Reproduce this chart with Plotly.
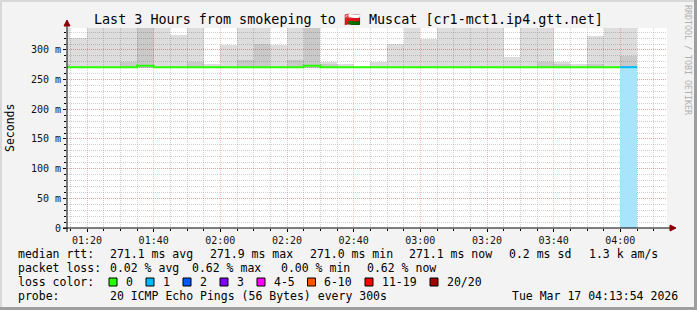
import plotly.graph_objects as go

DAY = "2026-03-17"
# 5-minute bins (start times)
bin_starts = ["01:10", "01:15", "01:20", "01:25", "01:30", "01:35", "01:40", "01:45",
              "01:50", "01:55", "02:00", "02:05", "02:10", "02:15", "02:20", "02:25",
              "02:30", "02:35", "02:40", "02:45", "02:50", "02:55", "03:00", "03:05",
              "03:10", "03:15", "03:20", "03:25", "03:30", "03:35", "03:40", "03:45",
              "03:50", "03:55", "04:00"]
bin_end_last = "04:05"
# median rtt per bin (ms)
median_ms = [271.0, 271.0, 271.0, 271.0, 271.0, 273.5, 271.0, 271.0,
             271.0, 271.0, 271.0, 271.0, 271.0, 271.0, 271.0, 273.5,
             271.0, 271.0, 271.0, 271.0, 271.0, 271.0, 271.0, 271.0,
             271.0, 271.0, 271.0, 271.0, 271.0, 271.0, 271.0, 271.0,
             271.0, 271.0, 271.0]
# outer smoke band top (ms) - light grey
smoke_outer = [345, 320, 345, 345, 345, 345, 345, 325,
               345, 277, 309, 345, 345, 309, 345, 345,
               280, 276, 272, 279, 310, 345, 318, 345,
               345, 345, 345, 288, 345, 345, 280, 277,
               324, 345, 345]
# inner smoke band top (ms) - darker grey (0 = none)
smoke_inner = [276, 0, 0, 0, 279, 345, 0, 0,
               280, 0, 0, 283, 310, 0, 283, 345,
               276, 0, 0, 0, 0, 0, 0, 0,
               0, 0, 0, 0, 0, 280, 277, 0,
               276, 0, 290]
smoke_floor = 269.0
# lost pings per bin (out of 20)
loss = [0] * 34 + [1]

yticks = [0, 50, 100, 150, 200, 250, 300]
ytick_text = ["0", "50 m", "100 m", "150 m", "200 m", "250 m", "300 m"]

loss_labels = ["0", "1", "2", "3", "4-5", "6-10", "11-19", "20/20"]
loss_colors = ["#26ff00", "#00b8ff", "#0059ff", "#7e00ff", "#ff00ff", "#ff5500", "#ff0000", "#a10000"]
loss_back = {1: "#a8e4fb"}

title = "Last 3 Hours from smokeping to \U0001F1F4\U0001F1F2 Muscat [cr1-mct1.ip4.gtt.net]"
stats_rtt = ["271.1 ms avg", "271.9 ms max", "271.0 ms min", "271.1 ms now", "0.2 ms sd", "1.3 k am/s"]
stats_loss = ["0.02 % avg", "0.62 % max", "0.00 % min", "0.62 % now"]
probe_text = "20 ICMP Echo Pings (56 Bytes) every 300s"
stamp_text = "Tue Mar 17 04:13:54 2026"

# ---------------- geometry ----------------
W, H = 697, 310
L, R, T, B = 67, 667, 28, 228
MONO = "DejaVu Sans Mono"


def px(x):
    return (x - L) / (R - L)


def py(y):
    return (B - y) / (B - T)


from datetime import datetime, timedelta

starts = [datetime.fromisoformat(f"{DAY} {s}:00") for s in bin_starts]
step = timedelta(minutes=5)
centers = [s + step / 2 for s in starts]
ends = starts[1:] + [datetime.fromisoformat(f"{DAY} {bin_end_last}:00")]

fig = go.Figure()

# smoke: outer band
fig.add_trace(go.Bar(
    x=centers, y=[v - smoke_floor for v in smoke_outer], base=[smoke_floor] * len(smoke_outer),
    width=300000, marker=dict(color="rgba(0,0,0,0.135)", line=dict(width=0)),
    hoverinfo="skip", showlegend=False))
# smoke: inner band
fig.add_trace(go.Bar(
    x=centers, y=[(v - smoke_floor) if v > 0 else 0 for v in smoke_inner],
    base=[smoke_floor] * len(smoke_inner),
    width=300000, marker=dict(color="rgba(0,0,0,0.09)", line=dict(width=0)),
    hoverinfo="skip", showlegend=False))
# loss background bars
fig.add_trace(go.Bar(
    x=centers, y=[m if l > 0 else 0 for m, l in zip(median_ms, loss)], base=[0] * len(loss),
    width=300000,
    marker=dict(color=[loss_back.get(l, "rgba(0,0,0,0)") for l in loss], line=dict(width=0)),
    hoverinfo="skip", showlegend=False))


def loss_color(n):
    if n == 0:
        return loss_colors[0]
    if n == 1:
        return loss_colors[1]
    if n == 2:
        return loss_colors[2]
    if n == 3:
        return loss_colors[3]
    if n <= 5:
        return loss_colors[4]
    if n <= 10:
        return loss_colors[5]
    if n <= 19:
        return loss_colors[6]
    return loss_colors[7]


# median line, split by loss colour
runs = []
for i, n in enumerate(loss):
    c = loss_color(n)
    if runs and runs[-1][0] == c:
        runs[-1][1].append(i)
    else:
        runs.append((c, [i]))
for c, idx in runs:
    xs = [starts[i] for i in idx] + [ends[idx[-1]]]
    ys = [median_ms[i] for i in idx] + [median_ms[idx[-1]]]
    fig.add_trace(go.Scatter(x=xs, y=ys, mode="lines", line=dict(color=c, width=2, shape="hv"),
                             hoverinfo="skip", showlegend=False))

grid_minor = "rgba(150,150,150,0.45)"
grid_major = "rgba(255,95,95,0.4)"

fig.update_layout(
    width=W, height=H,
    margin=dict(l=L, r=W - R, t=T, b=H - B, pad=0),
    paper_bgcolor="#f3f3f3", plot_bgcolor="#ffffff",
    barmode="overlay", bargap=0,
    showlegend=False,
    font=dict(family=MONO, size=10, color="#000"),
    xaxis=dict(
        type="date",
        range=[f"{DAY} 01:14:00", f"{DAY} 04:14:00"],
        tick0=f"{DAY} 01:20:00", dtick=1200000, tickformat="%H:%M",
        showgrid=True, gridcolor=grid_major, griddash="1px,1px", gridwidth=1,
        ticks="outside", ticklen=3, tickcolor="#000", tickwidth=1,
        tickfont=dict(family=MONO, size=10, color="#111"),
        showline=False, zeroline=False, fixedrange=True,
        minor=dict(dtick=300000, tick0=f"{DAY} 01:20:00", showgrid=True, gridcolor=grid_minor,
                   griddash="1px,1px", gridwidth=1, ticks="outside", ticklen=2, tickcolor="#000"),
    ),
    yaxis=dict(
        range=[0, 337], tickvals=yticks, ticktext=ytick_text,
        showgrid=True, gridcolor=grid_major, griddash="1px,1px", gridwidth=1,
        ticks="outside", ticklen=3, tickcolor="#000", tickwidth=1,
        tickfont=dict(family=MONO, size=10, color="#111"),
        showline=False, zeroline=False, fixedrange=True,
        minor=dict(dtick=10, tick0=0, showgrid=True, gridcolor=grid_minor,
                   griddash="1px,1px", gridwidth=1, ticks="outside", ticklen=2, tickcolor="#000"),
    ),
)

shapes = []
# frame
shapes.append(dict(type="rect", xref="paper", yref="paper", x0=px(0), x1=px(W), y0=py(0), y1=py(2),
                   fillcolor="#d8d8d8", line=dict(width=0), layer="above"))
shapes.append(dict(type="rect", xref="paper", yref="paper", x0=px(0), x1=px(2), y0=py(0), y1=py(H),
                   fillcolor="#d8d8d8", line=dict(width=0), layer="above"))
shapes.append(dict(type="rect", xref="paper", yref="paper", x0=px(W - 3), x1=px(W), y0=py(0), y1=py(H),
                   fillcolor="#9e9e9e", line=dict(width=0), layer="above"))
shapes.append(dict(type="rect", xref="paper", yref="paper", x0=px(0), x1=px(W), y0=py(H - 3), y1=py(H),
                   fillcolor="#9e9e9e", line=dict(width=0), layer="above"))
# axes
shapes.append(dict(type="line", xref="paper", yref="paper", x0=px(63), x1=px(671), y0=0, y1=0,
                   line=dict(color="#000", width=1), layer="above"))
shapes.append(dict(type="line", xref="paper", yref="paper", x0=0, x1=0, y0=py(232), y1=py(25),
                   line=dict(color="#000", width=1), layer="above"))
shapes.append(dict(type="path", xref="paper", yref="paper",
                   path=f"M {px(670)} {py(225)} L {px(676)} {py(228)} L {px(670)} {py(231)} Z",
                   fillcolor="#8b0000", line=dict(color="#8b0000", width=1), layer="above"))
shapes.append(dict(type="path", xref="paper", yref="paper",
                   path=f"M {px(64)} {py(26)} L {px(67)} {py(20)} L {px(70)} {py(26)} Z",
                   fillcolor="#8b0000", line=dict(color="#8b0000", width=1), layer="above"))
# loss colour squares
sq_x = [109, 146, 183, 220, 257, 307.5, 365, 430]
lab_x = [124, 161, 198, 235, 272, 322, 380, 445]
for xq, c in zip(sq_x, loss_colors):
    shapes.append(dict(type="rect", xref="paper", yref="paper", x0=px(xq), x1=px(xq + 8),
                       y0=py(286), y1=py(278), fillcolor=c, line=dict(color="#000", width=1)))
fig.update_layout(shapes=shapes)

ann = []
FS = 11.5


def text(x, y, s, anchor="left", size=FS, color="#000", angle=0):
    ann.append(dict(x=px(x), y=py(y), xref="paper", yref="paper", text=s, showarrow=False,
                    xanchor=anchor, yanchor="middle", textangle=angle,
                    font=dict(family=MONO, size=size, color=color)))


text(348, 20, title, anchor="center", size=13.4)
text(10, 128, "Seconds", anchor="center", size=11.5, angle=-90)
text(688, 60, "RRDTOOL / TOBI OETIKER", anchor="center", size=8.3, color="#b0b0b0", angle=90)

text(16, 254, "median rtt:")
for xx, s in zip([107.5, 207.5, 307.5, 407, 506.7, 586.7], stats_rtt):
    text(xx, 254, s)
text(16, 268, "packet loss:")
for xx, s in zip([107.5, 190, 279, 364.5], stats_loss):
    text(xx, 268, s)
text(16, 282, "loss color:")
for xx, s in zip(lab_x, loss_labels):
    text(xx, 282, s)
text(16, 296, "probe:")
text(107.5, 296, probe_text)
text(680, 296, stamp_text, anchor="right")

fig.update_layout(annotations=ann)

fig.write_html("out.html")
